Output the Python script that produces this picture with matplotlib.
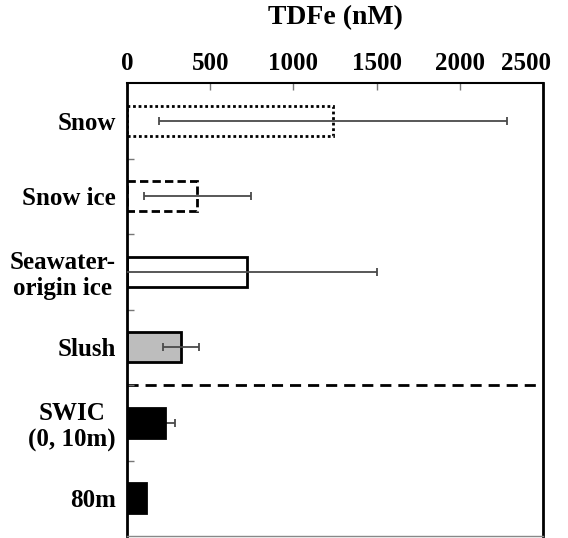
import numpy as np
import matplotlib
matplotlib.use("Agg")
import matplotlib.pyplot as plt
import matplotlib.transforms as mtransforms

# TDFe concentrations (nM), mean and standard deviation per sample type
categories = ["Snow", "Snow ice", "Seawater-\norigin ice", "Slush", "SWIC\n(0, 10m)", "80m"]
tdfe = [1238, 423, 721, 325, 228, 114]
tdfe_sd = [1043, 322, 780, 110, 60, 0]
xticks = [0, 500, 1000, 1500, 2000, 2500]

face_colors = ["white", "white", "white", "#bdbdbd", "black", "black"]
edge_styles = [(0, (1, 1)), (0, (3, 1.5)), "-", "-", "-", "-"]

plt.rcParams["font.family"] = ["Liberation Serif", "DejaVu Serif"]
plt.rcParams["font.weight"] = "bold"

fig = plt.figure(figsize=(5.68, 5.38), dpi=100)
ax = fig.add_axes([0.2236, 0.0037, 0.7324, 0.842])

y = np.arange(len(categories))
for i in range(len(categories)):
    ax.barh(y[i], tdfe[i], height=0.4, color=face_colors[i], edgecolor="black",
            linewidth=2, linestyle=edge_styles[i], zorder=2)
    if tdfe_sd[i] > 0:
        # black bars hide the lower whisker
        z = 1.5 if face_colors[i] == "black" else 3
        ax.errorbar(tdfe[i], y[i], xerr=tdfe_sd[i], fmt="none", ecolor="#4a4a4a",
                    elinewidth=1.3, capsize=3, capthick=1.3, zorder=z)

# separates ice samples from seawater samples
ax.axhline(3.5, xmin=0, xmax=0.99, color="black", lw=2, ls=(0, (4, 2.5)), zorder=1)

ax.set_xlim(0, 2500)
ax.set_ylim(len(categories) - 0.5, -0.5)
ax.xaxis.tick_top()
ax.xaxis.set_label_position("top")
ax.set_xticks(xticks)
ax.tick_params(axis="x", direction="in", length=5, width=1, color="#777777",
               labelsize=18, pad=6)
ax.set_xlabel("TDFe (nM)", fontsize=20, fontweight="bold", labelpad=20)

# pull the last tick label inside the figure
last = ax.get_xticklabels()[-1]
last.set_transform(last.get_transform() +
                   mtransforms.ScaledTranslation(-17 / 100, 0, fig.dpi_scale_trans))

ax.set_yticks(y)
ax.set_yticklabels(categories, multialignment="center", linespacing=1.15)
ax.set_yticks(np.arange(0.5, len(categories) - 1), minor=True)
ax.tick_params(axis="y", which="major", length=0, labelsize=18, pad=8)
ax.tick_params(axis="y", which="minor", direction="in", length=5, width=1, color="#777777")

for side in ["left", "right"]:
    ax.spines[side].set_linewidth(2)
ax.spines["top"].set_linewidth(1.5)
ax.spines["bottom"].set_color("#888888")
ax.spines["bottom"].set_linewidth(1)

fig.savefig("out.png", dpi=100)
